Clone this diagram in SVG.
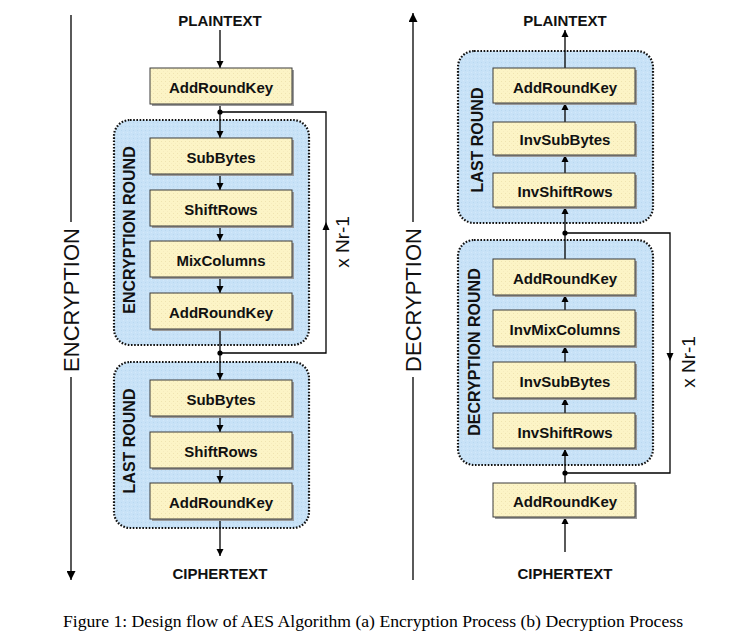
<svg xmlns="http://www.w3.org/2000/svg" width="751" height="639" viewBox="0 0 751 639">
<defs>
<marker id="ah" viewBox="0 0 10 10" refX="10" refY="5" markerWidth="7" markerHeight="8" markerUnits="userSpaceOnUse" orient="auto"><path d="M0,0 L10,5 L0,10 Z" fill="#000"/></marker>
<marker id="big" viewBox="0 0 10 10" refX="10" refY="5" markerWidth="12" markerHeight="9" markerUnits="userSpaceOnUse" orient="auto"><path d="M0,0 L10,5 L0,10 Z" fill="#000"/></marker>
<pattern id="dots" width="4" height="4" patternUnits="userSpaceOnUse"><rect width="4" height="4" fill="#FCF4C6"/><rect x="1" y="1" width="1" height="1" fill="#EFE3B0"/><rect x="3" y="3" width="1" height="1" fill="#F6EBBE"/></pattern>
<pattern id="bdots" width="4" height="4" patternUnits="userSpaceOnUse"><rect width="4" height="4" fill="#C8E2F7"/><rect x="1" y="2" width="1" height="1" fill="#B9D8F0"/><rect x="3" y="0" width="1" height="1" fill="#D4E9FA"/></pattern>
</defs>
<style>
.box{fill:url(#dots);stroke:#3a3a3a;stroke-width:1}
.sh{fill:#9a9a9a}
.reg{fill:url(#bdots);stroke:#111;stroke-width:2.2;stroke-dasharray:1.6 1.6}
.bt{font-family:"Liberation Sans",Arial,sans-serif;font-weight:bold;font-size:15px;fill:#111;text-anchor:middle;dominant-baseline:central}
.rl{font-family:"Liberation Sans",Arial,sans-serif;font-weight:bold;font-size:16px;fill:#111;text-anchor:middle;dominant-baseline:central}
.ax{font-family:"Liberation Sans",Arial,sans-serif;font-size:22px;fill:#111;text-anchor:middle;dominant-baseline:central}
.nr{font-family:"Liberation Sans",Arial,sans-serif;font-size:19px;fill:#111;text-anchor:middle;dominant-baseline:central}
.ln{fill:none;stroke:#000;stroke-width:1.3}
.cap{font-family:"Liberation Serif","Times New Roman",serif;font-size:16px;fill:#000}
</style>
<rect width="751" height="639" fill="#fff"/>

<!-- regions -->
<g id="enc-round"><rect class="reg" x="114" y="120" width="195" height="225" rx="16"/><text class="rl" transform="translate(129,230) rotate(-90)">ENCRYPTION ROUND</text></g>
<g id="enc-last"><rect class="reg" x="114" y="362" width="195" height="166" rx="16"/><text class="rl" transform="translate(129,441) rotate(-90)">LAST ROUND</text></g>
<g id="dec-last"><rect class="reg" x="458" y="51" width="195" height="172" rx="16"/><text class="rl" transform="translate(477,140) rotate(-90)">LAST ROUND</text></g>
<g id="dec-round"><rect class="reg" x="458" y="240" width="195" height="225" rx="16"/><text class="rl" transform="translate(474,352) rotate(-90)">DECRYPTION ROUND</text></g>

<!-- axis labels -->
<g id="enc-axis"><line class="ln" x1="71" y1="15" x2="71" y2="222"/><line class="ln" x1="71" y1="377" x2="71" y2="580" marker-end="url(#big)"/><text class="ax" transform="translate(71,300) rotate(-90)">ENCRYPTION</text></g>
<g id="dec-axis"><line class="ln" x1="413" y1="580" x2="413" y2="377"/><line class="ln" x1="413" y1="222" x2="413" y2="13" marker-end="url(#big)"/><text class="ax" transform="translate(413,300) rotate(-90)">DECRYPTION</text></g>

<!-- terminal labels -->
<g id="enc-plain"><text class="bt" x="220" y="20">PLAINTEXT</text></g>
<g id="enc-cipher"><text class="bt" x="220" y="573">CIPHERTEXT</text></g>
<g id="dec-plain"><text class="bt" x="565" y="20">PLAINTEXT</text></g>
<g id="dec-cipher"><text class="bt" x="565" y="573">CIPHERTEXT</text></g>

<!-- connectors -->
<g id="connectors">
<line class="ln" x1="220" y1="30" x2="220" y2="68" marker-end="url(#ah)"/>
<line class="ln" x1="220" y1="104" x2="220" y2="138" marker-end="url(#ah)"/>
<line class="ln" x1="220" y1="174" x2="220" y2="190" marker-end="url(#ah)"/>
<line class="ln" x1="220" y1="226" x2="220" y2="241" marker-end="url(#ah)"/>
<line class="ln" x1="220" y1="277" x2="220" y2="293" marker-end="url(#ah)"/>
<line class="ln" x1="220" y1="329" x2="220" y2="380" marker-end="url(#ah)"/>
<line class="ln" x1="220" y1="416" x2="220" y2="432" marker-end="url(#ah)"/>
<line class="ln" x1="220" y1="468" x2="220" y2="483" marker-end="url(#ah)"/>
<line class="ln" x1="220" y1="519" x2="220" y2="556" marker-end="url(#ah)"/>
<path class="ln" d="M220,353 H326 V112 H220"/>
<polygon points="326,222 322.5,230 329.5,230" fill="#000"/>
<circle cx="220" cy="112" r="2.6" fill="#000"/>
<circle cx="220" cy="353" r="2.6" fill="#000"/>

<line class="ln" x1="565" y1="552" x2="565" y2="517" marker-end="url(#ah)"/>
<line class="ln" x1="565" y1="483" x2="565" y2="449" marker-end="url(#ah)"/>
<line class="ln" x1="565" y1="413" x2="565" y2="398" marker-end="url(#ah)"/>
<line class="ln" x1="565" y1="362" x2="565" y2="346" marker-end="url(#ah)"/>
<line class="ln" x1="565" y1="310" x2="565" y2="295" marker-end="url(#ah)"/>
<line class="ln" x1="565" y1="259" x2="565" y2="207" marker-end="url(#ah)"/>
<line class="ln" x1="565" y1="173" x2="565" y2="155" marker-end="url(#ah)"/>
<line class="ln" x1="565" y1="122" x2="565" y2="103" marker-end="url(#ah)"/>
<line class="ln" x1="565" y1="68" x2="565" y2="30" marker-end="url(#ah)"/>
<path class="ln" d="M565,233 H670 V473 H565"/>
<polygon points="670,361 666.5,353 673.5,353" fill="#000"/>
<circle cx="565" cy="233" r="2.6" fill="#000"/>
<circle cx="565" cy="473" r="2.6" fill="#000"/>
</g>

<g id="enc-nr"><text class="nr" transform="translate(342,242) rotate(-90)">x Nr-1</text></g>
<g id="dec-nr"><text class="nr" transform="translate(688,362) rotate(-90)">x Nr-1</text></g>

<!-- encryption boxes -->
<g id="e-ark0"><rect class="sh" x="152" y="70" width="142" height="36"/><rect class="box" x="150" y="68" width="142" height="36"/><text class="bt" x="221" y="87">AddRoundKey</text></g>
<g id="e-sb1"><rect class="sh" x="152" y="140" width="142" height="36"/><rect class="box" x="150" y="138" width="142" height="36"/><text class="bt" x="221" y="157">SubBytes</text></g>
<g id="e-sr1"><rect class="sh" x="152" y="192" width="142" height="36"/><rect class="box" x="150" y="190" width="142" height="36"/><text class="bt" x="221" y="209">ShiftRows</text></g>
<g id="e-mc1"><rect class="sh" x="152" y="243" width="142" height="36"/><rect class="box" x="150" y="241" width="142" height="36"/><text class="bt" x="221" y="260">MixColumns</text></g>
<g id="e-ark1"><rect class="sh" x="152" y="295" width="142" height="36"/><rect class="box" x="150" y="293" width="142" height="36"/><text class="bt" x="221" y="312">AddRoundKey</text></g>
<g id="e-sb2"><rect class="sh" x="152" y="382" width="142" height="36"/><rect class="box" x="150" y="380" width="142" height="36"/><text class="bt" x="221" y="399">SubBytes</text></g>
<g id="e-sr2"><rect class="sh" x="152" y="434" width="142" height="36"/><rect class="box" x="150" y="432" width="142" height="36"/><text class="bt" x="221" y="451">ShiftRows</text></g>
<g id="e-ark2"><rect class="sh" x="152" y="485" width="142" height="36"/><rect class="box" x="150" y="483" width="142" height="36"/><text class="bt" x="221" y="502">AddRoundKey</text></g>

<!-- decryption boxes -->
<g id="d-ark2"><rect class="sh" x="495" y="70" width="142" height="35"/><rect class="box" x="493" y="68" width="142" height="35"/><text class="bt" x="565" y="87">AddRoundKey</text></g>
<g id="d-isb2"><rect class="sh" x="495" y="124" width="142" height="33"/><rect class="box" x="493" y="122" width="142" height="33"/><text class="bt" x="565" y="139">InvSubBytes</text></g>
<g id="d-isr2"><rect class="sh" x="495" y="175" width="142" height="34"/><rect class="box" x="493" y="173" width="142" height="34"/><text class="bt" x="565" y="191">InvShiftRows</text></g>
<g id="d-ark1"><rect class="sh" x="495" y="261" width="142" height="36"/><rect class="box" x="493" y="259" width="142" height="36"/><text class="bt" x="565" y="278">AddRoundKey</text></g>
<g id="d-imc1"><rect class="sh" x="495" y="312" width="142" height="36"/><rect class="box" x="493" y="310" width="142" height="36"/><text class="bt" x="565" y="329">InvMixColumns</text></g>
<g id="d-isb1"><rect class="sh" x="495" y="364" width="142" height="36"/><rect class="box" x="493" y="362" width="142" height="36"/><text class="bt" x="565" y="381">InvSubBytes</text></g>
<g id="d-isr1"><rect class="sh" x="495" y="415" width="142" height="35"/><rect class="box" x="493" y="413" width="142" height="35"/><text class="bt" x="565" y="432">InvShiftRows</text></g>
<g id="d-ark0"><rect class="sh" x="495" y="485" width="142" height="34"/><rect class="box" x="493" y="483" width="142" height="34"/><text class="bt" x="565" y="501">AddRoundKey</text></g>

<text class="cap" x="63" y="627" textLength="620" lengthAdjust="spacingAndGlyphs">Figure 1: Design flow of AES Algorithm (a) Encryption Process (b) Decryption Process</text>
</svg>
